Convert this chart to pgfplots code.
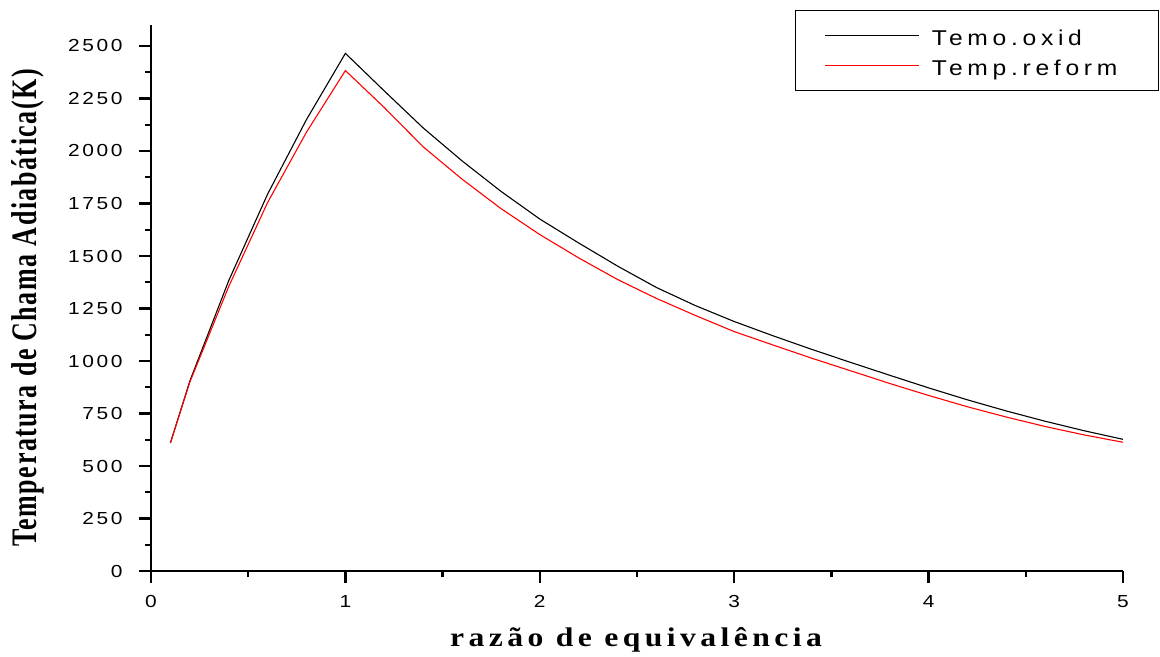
\documentclass[border=0pt]{standalone}
\usepackage{pgfplots}
\pgfplotsset{compat=1.18}
\usepackage{fontspec}
\usepackage{graphicx}
\setmainfont{Liberation Serif}
\newfontfamily\tickfont[FakeStretch=1.2,LetterSpace=15]{Liberation Sans}
\newfontfamily\legfont[FakeStretch=1.15,LetterSpace=22]{Liberation Sans}
\newfontfamily\ylabfont[LetterSpace=6]{Liberation Serif}
\newfontfamily\xlabfont[LetterSpace=14]{Liberation Serif}
\begin{document}
\begin{tikzpicture}
\begin{axis}[
  scale only axis, width=972bp, height=546bp,
  xmin=0, xmax=5, ymin=0, ymax=2600,
  axis x line*=bottom, axis y line*=left,
  axis line style={line width=2.6bp, -},
  xtick={0,1,2,3,4,5}, xticklabels={0,1,2,3,4,5},
  ytick={0,250,...,2500},
  yticklabels={0,250,500,750,1000,1250,1500,1750,2000,2250,2500},
  minor x tick num=1, minor y tick num=1,
  tick align=outside,
  major tick length=12bp, minor tick length=6bp,
  every tick/.style={black, line width=2.3bp},
  ticklabel style={font=\tickfont\fontsize{17.5}{19}\selectfont},
  xticklabel style={yshift=-9bp},
  yticklabel style={xshift=-13bp},
  xlabel={\resizebox{372bp}{\height}{\xlabfont\bfseries\fontsize{27}{29}\selectfont razão de equivalência}},
  ylabel={\resizebox{478bp}{\height}{\ylabfont\bfseries\fontsize{36}{38}\selectfont Temperatura de Chama Adiabática(K)}},
  xlabel style={at={(axis description cs:0.499,-0.127)}, anchor=center},
  ylabel style={at={(axis description cs:-0.1265,0.482)}, anchor=center},
  legend style={at={(axis description cs:1.037,1.0275)}, anchor=north east,
    draw=black, line width=1.2bp, inner xsep=29bp, inner ysep=11bp,
    row sep=2bp, column sep=0bp,
    nodes={inner xsep=12bp, inner ysep=0bp, text height=24bp, text depth=4bp},
    font=\legfont\fontsize{21.5}{22}\selectfont},
  legend cell align=left,
  legend image code/.code={\path (0bp,0bp) -- (94bp,0bp); \draw[#1, line width=1bp] (9bp,0bp) -- (94bp,0bp);},
]
\addplot[black, line width=1.1bp] coordinates {
(0.1,610)(0.2,905)(0.4,1383)(0.6,1795)(0.8,2150)(1.0,2465)(1.2,2286)(1.4,2110)(1.6,1953)(1.8,1808)(2.0,1676)(2.2,1562)(2.4,1452)(2.6,1350)(2.8,1264)(3.0,1188)(3.2,1120)(3.4,1055)(3.6,993)(3.8,932)(4.0,872)(4.2,815)(4.4,762)(4.6,713)(4.8,668)(5.0,627)
};
\addlegendentry{Temo.oxid}
\addplot[red, line width=1.1bp] coordinates {
(0.1,610)(0.2,900)(0.4,1355)(0.6,1755)(0.8,2090)(1.0,2383)(1.2,2207)(1.4,2020)(1.6,1866)(1.8,1726)(2.0,1602)(2.2,1491)(2.4,1388)(2.6,1298)(2.8,1217)(3.0,1140)(3.2,1076)(3.4,1013)(3.6,953)(3.8,893)(4.0,836)(4.2,782)(4.4,733)(4.6,688)(4.8,648)(5.0,613)
};
\addlegendentry{Temp.reform}
\end{axis}
\pgfresetboundingbox
\useasboundingbox (-151bp,-86bp) rectangle (1009bp,571bp);
\end{tikzpicture}
\end{document}
